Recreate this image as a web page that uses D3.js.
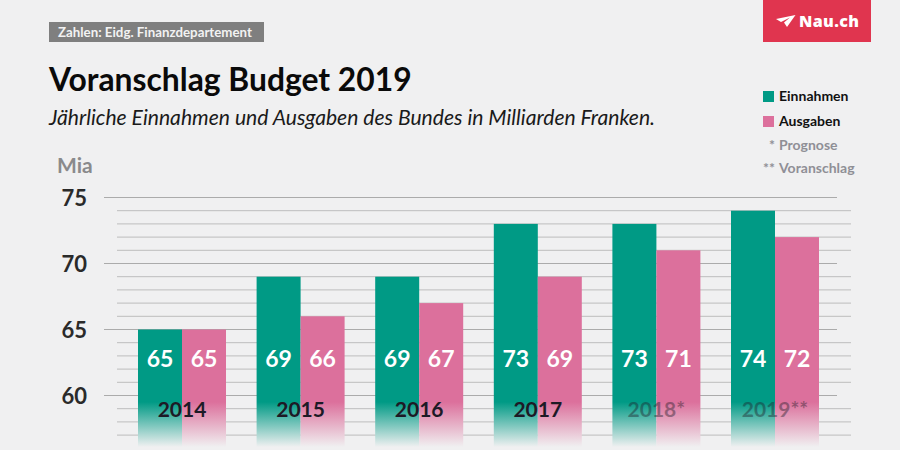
<!DOCTYPE html>
<html><head><meta charset="utf-8">
<script src="https://cdn.jsdelivr.net/npm/d3@7/dist/d3.min.js"></script>
<style>html,body{margin:0;padding:0;background:#f0f0f1}svg{display:block;font-family:Lato,sans-serif}</style>
</head><body><svg id="c" width="900" height="450"></svg>
<script>
const years=["2014","2015","2016","2017","2018*","2019**"];
const einnahmen=[65,69,69,73,73,74];
const ausgaben=[65,66,67,69,71,72];
const majorTicks=[75,70,65,60];
const minorTicks=[74,73,72,71,69,68,67,66,64,63,62,61,59,58,57];
const labelOpacity=[1,1,1,1,0.4,0.4];
const legend=[["Einnahmen","#009a85"],["Ausgaben","#dc709c"]];
const notes=[["*","Prognose"],["**","Voranschlag"]];
const TEAL="#009a85",PINK="#dc709c",BG="#f0f0f1";

const svg=d3.select("#c");
svg.append("rect").attr("width",900).attr("height",450).attr("fill",BG);
const y=d3.scaleLinear().domain([60,75]).range([395.5,197.5]);
const x0=d3.scalePoint().domain(years).range([182,775]);

const defs=svg.append("defs");
[["t",TEAL],["p",PINK]].forEach(([id,c])=>{
  const g=defs.append("linearGradient").attr("id",id).attr("gradientUnits","userSpaceOnUse")
    .attr("x1",0).attr("x2",0).attr("y1",402).attr("y2",447);
  g.append("stop").attr("offset",0).attr("stop-color",c);
  g.append("stop").attr("offset",1).attr("stop-color",BG);
});

// grid
svg.append("g").selectAll("line").data(minorTicks).join("line")
  .attr("x1",117).attr("x2",851).attr("y1",d=>y(d)).attr("y2",d=>y(d))
  .attr("stroke","#bdbdbd").attr("stroke-width",1);
svg.append("g").selectAll("line").data(majorTicks).join("line")
  .attr("x1",104).attr("x2",837).attr("y1",d=>y(d)).attr("y2",d=>y(d))
  .attr("stroke","#ababab").attr("stroke-width",1);

// axis
const axis=svg.append("g").attr("transform","translate(87,0)")
  .call(d3.axisLeft(y).tickValues(majorTicks).tickSize(0).tickPadding(0));
axis.select(".domain").remove();
axis.selectAll("text").attr("font-family","Lato").attr("font-size",22).attr("font-weight",700).attr("fill","#2a2a2a")
  .attr("dy","0.35em");

// bars
const bw=44;
const g=svg.append("g");
g.selectAll("rect.e").data(years).join("rect").attr("class","e")
  .attr("x",d=>x0(d)-bw).attr("width",bw)
  .attr("y",(d,i)=>y(einnahmen[i])).attr("height",(d,i)=>447-y(einnahmen[i])).attr("fill","url(#t)");
g.selectAll("rect.a").data(years).join("rect").attr("class","a")
  .attr("x",d=>x0(d)).attr("width",bw)
  .attr("y",(d,i)=>y(ausgaben[i])).attr("height",(d,i)=>447-y(ausgaben[i])).attr("fill","url(#p)");

// value labels
const vl=(arr,dx)=>g.selectAll(null).data(arr).join("text")
  .attr("x",(d,i)=>x0(years[i])+dx).attr("y",367).attr("text-anchor","middle")
  .attr("font-size",23).attr("font-weight",700).attr("fill","#fff").text(d=>d);
vl(einnahmen,-22);vl(ausgaben,22);

// year labels
g.selectAll(null).data(years).join("text")
  .attr("x",d=>x0(d)).attr("y",417).attr("text-anchor","middle")
  .attr("font-size",21).attr("font-weight",700).attr("fill","#1d1a26")
  .attr("opacity",(d,i)=>labelOpacity[i]).text(d=>d);

// header
svg.append("rect").attr("x",49).attr("y",22).attr("width",215).attr("height",20).attr("fill","#7f7f7f");
svg.append("text").attr("x",58).attr("y",37).attr("font-size",13.3).attr("font-weight",700).attr("fill","#f2f2f2").text("Zahlen: Eidg. Finanzdepartement");
svg.append("text").attr("x",49).attr("y",91).attr("font-size",31.8).attr("font-weight",700).attr("fill","#0a0a0a").text("Voranschlag Budget 2019");
svg.append("text").attr("x",49).attr("y",125).attr("font-size",21.1).attr("font-style","italic").attr("fill","#1a1a1a").text("Jährliche Einnahmen und Ausgaben des Bundes in Milliarden Franken.");
svg.append("text").attr("x",57).attr("y",173).attr("font-size",21).attr("font-weight",700).attr("fill","#8a8a8c").text("Mia");

// logo
svg.append("rect").attr("x",763).attr("y",0).attr("width",108).attr("height",42).attr("fill","#e0354f");
svg.append("path").attr("d","M776 19 L795.5 15 L787 27 L784 22.5 L790 17.5 L781 22 Z").attr("fill","#fff");
svg.append("text").attr("x",799).attr("y",27).attr("font-family","'Open Sans'").attr("font-size",16).attr("font-weight",800).attr("fill","#fff").attr("letter-spacing",0.4).text("Nau.ch");

// legend
legend.forEach(([t,c],i)=>{
  const ly=[91,116][i];
  svg.append("rect").attr("x",763).attr("y",ly).attr("width",11).attr("height",11).attr("fill",c);
  svg.append("text").attr("x",779).attr("y",ly+10).attr("font-size",14).attr("font-weight",700).attr("fill","#111").text(t);
});
notes.forEach(([s,t],i)=>{
  const ly=[150,173][i];
  svg.append("text").attr("x",775).attr("y",ly).attr("text-anchor","end").attr("font-size",14).attr("font-weight",700).attr("fill","#8f8f96").text(s);
  svg.append("text").attr("x",779).attr("y",ly).attr("font-size",14).attr("font-weight",700).attr("fill","#8f8f96").text(t);
});
</script></body></html>
